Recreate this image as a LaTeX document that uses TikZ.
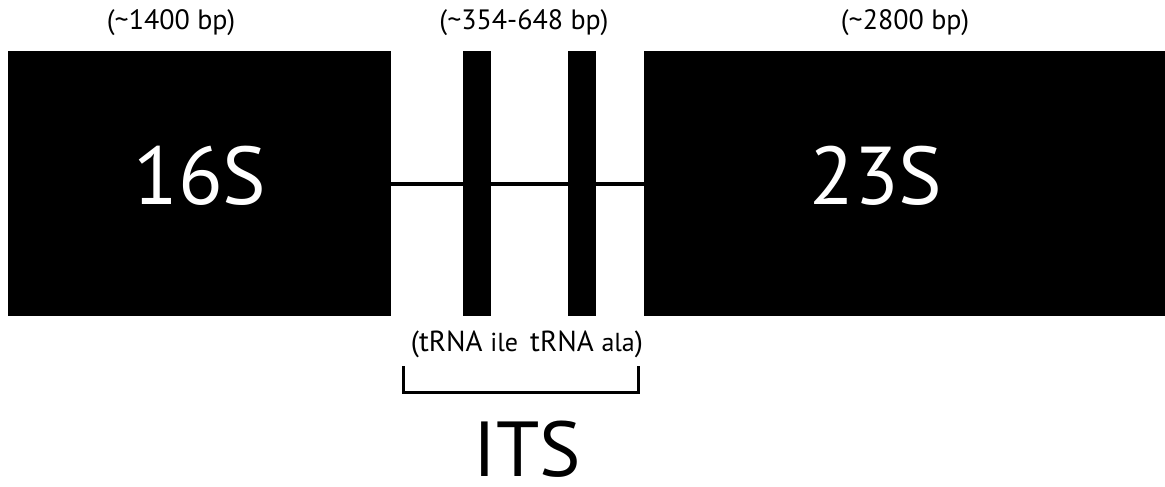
\documentclass[tikz,border=0pt]{standalone}
\usepackage{fontspec}
\setmainfont{PT Sans}
\newcommand{\tld}{\char"7E\relax}
\begin{document}
\begin{tikzpicture}[x=1pt, y=-1pt,
  block/.style={fill=black, draw=none, inner sep=0pt, outer sep=0pt},
  gene/.style={block, minimum height=265pt},
  trna/.style={block, minimum width=28pt, minimum height=265pt},
  bigtext/.style={text=white, inner sep=0pt, anchor=base, font=\fontsize{82}{90}\selectfont},
  sizelabel/.style={inner sep=0pt, anchor=base, font=\fontsize{28}{30}\selectfont},
  spacer/.style={line width=4pt},
  bracket/.style={line width=3pt}]
\useasboundingbox[fill=white] (0,0) rectangle (1165,487);

% ribosomal RNA genes and the tRNA genes in the spacer
\node[gene, minimum width=383pt] (s16) at (199.5,183.5) {};
\node[gene, minimum width=521pt] (s23) at (904.5,183.5) {};
\node[trna] (ile) at (477,183.5) {};
\node[trna] (ala) at (582,183.5) {};

% internal transcribed spacer line
\draw[spacer] (s16.east) -- (ile.west);
\draw[spacer] (ile.east) -- (ala.west);
\draw[spacer] (ala.east) -- (s23.west);

% gene names
\node[bigtext] (t16) at (200,204) {16S};
\node[bigtext] (t23) at (876,204) {23S};

% sizes
\node[sizelabel] (l16) at (171,30) {(\tld 1400 bp)};
\node[sizelabel] (lits) at (524,30) {(\tld 354-648 bp)};
\node[sizelabel] (l23) at (905,30) {(\tld 2800 bp)};

% tRNA names
\node[sizelabel, font=\fontsize{29}{31}\selectfont] (trn) at (527,351)
  {(tRNA {\fontsize{26}{28}\selectfont ile}\hspace{12pt}tRNA {\fontsize{26}{28}\selectfont ala})};

% bracket over the spacer
\coordinate (bl) at (403,366);
\coordinate (br) at (638,366);
\draw[bracket] (bl) -- ++(0,26) -| (br);

\node[inner sep=0pt, anchor=base, font=\fontsize{78}{86}\selectfont] (its) at (527,476) {ITS};
\end{tikzpicture}
\end{document}
